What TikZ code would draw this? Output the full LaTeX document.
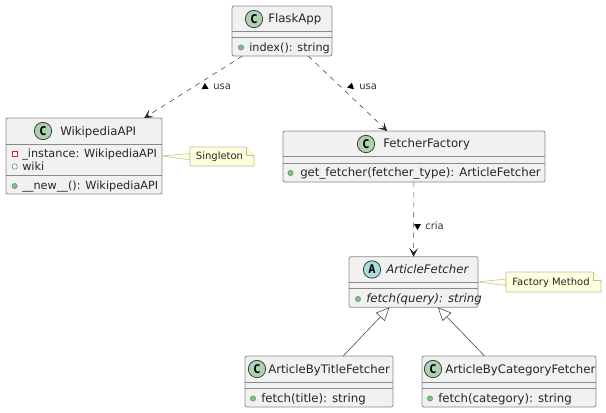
\documentclass[tikz,border=0pt]{standalone}
\usepackage{fontspec}
\setmainfont{DejaVu Sans}
\newfontfamily\iconfont{DejaVu Sans Mono}
\usetikzlibrary{shapes.geometric, arrows.meta}
\definecolor{boxfill}{HTML}{F1F1F1}
\definecolor{boxline}{HTML}{8A8A8A}
\definecolor{classgreen}{HTML}{ADD1B2}
\definecolor{abstractblue}{HTML}{A9DCDF}
\definecolor{notefill}{HTML}{FEFFDD}
\definecolor{noteline}{HTML}{BDBD9E}
\definecolor{methodgreen}{HTML}{84BE84}
\definecolor{edgegreen}{HTML}{3F8F68}
\definecolor{privred}{HTML}{C82930}

\begin{document}
\begin{tikzpicture}[
  x=0.75pt, y=-0.75pt,
  classbox/.style={draw=boxline, fill=boxfill, rounded corners=1.5pt, line width=0.6pt, outer sep=0pt, inner sep=0pt},
  sepline/.style={draw=boxline, line width=0.5pt},
  icon/.style={circle, draw=black!75, line width=0.6pt, minimum size=13pt, inner sep=0pt, font=\iconfont\bfseries\fontsize{9}{9}\selectfont},
  classicon/.style={icon, fill=classgreen},
  abstracticon/.style={icon, fill=abstractblue},
  txt/.style={anchor=west, inner sep=0pt, text height=1.6ex, text depth=0.45ex, text=black!85, font=\fontsize{8.8}{10}\selectfont},
  narrowtxt/.style={txt, font=\fontsize{8.45}{10}\selectfont},
  pubmethod/.style={circle, fill=methodgreen, draw=edgegreen, line width=0.3pt, minimum size=4pt, inner sep=0pt},
  pubfield/.style={circle, fill=white, draw=edgegreen, line width=0.4pt, minimum size=4pt, inner sep=0pt},
  privfield/.style={rectangle, fill=white, draw=privred, line width=0.5pt, minimum size=3.6pt, inner sep=0pt},
  uses/.style={draw=black!70, line width=0.45pt, dash pattern=on 3.8pt off 3.8pt, -{Stealth[length=6.5pt, width=6.5pt, inset=3.2pt, black!85]}},
  extends/.style={draw=black!70, line width=0.45pt, -{Triangle[open, length=10pt, width=9pt, fill=white]}},
  linklabel/.style={anchor=west, inner sep=0pt, text=black!80, font=\fontsize{7.5}{9}\selectfont},
  linkarrow/.style={regular polygon, regular polygon sides=3, fill=black, inner sep=0pt, minimum size=6pt},
  notebox/.style={inner sep=0pt, outer sep=0pt},
  notetext/.style={inner sep=0pt, font=\fontsize{7.5}{9}\selectfont, text=black!85},
  notewedge/.style={fill=notefill, draw=noteline, line width=0.4pt, line join=round},
]
  \useasboundingbox (0,0) rectangle (606,412);

  % Class boxes
  \node[classbox, minimum width=75pt, minimum height=37.5pt] (flask) at (282,31) {};
  \node[classbox, minimum width=117pt, minimum height=57pt] (wiki) at (84,156) {};
  \node[classbox, minimum width=196.5pt, minimum height=38.25pt] (factory) at (414,156.5) {};
  \node[classbox, minimum width=96.75pt, minimum height=37.9pt] (fetcher) at (413.5,282) {};
  \node[classbox, minimum width=111pt, minimum height=38.25pt] (bytitle) at (319,381.5) {};
  \node[classbox, minimum width=130.5pt, minimum height=38.25pt] (bycategory) at (509,381.5) {};

  % Compartment lines
  \foreach \n/\a/\b in {flask/31.5/37.5, wiki/144/175, factory/156.5/163, fetcher/282/288, bytitle/382/388, bycategory/382/388}
    \draw[sepline] (\n.west |- 0,\a) -- (\n.east |- 0,\a) (\n.west |- 0,\b) -- (\n.east |- 0,\b);

  % Headers
  \node[classicon] (flaskicon) at (254,19) {C};
  \node[txt] (flaskname) at (268,18.5) {FlaskApp};
  \node[classicon] (wikiicon) at (43,131) {C};
  \node[txt] (wikiname) at (60,131) {WikipediaAPI};
  \node[classicon] (factoryicon) at (366,144) {C};
  \node[txt] (factoryname) at (383,143.5) {FetcherFactory};
  \node[abstracticon] (fetchericon) at (372,269.5) {A};
  \node[txt, font=\fontsize{8.8}{10}\selectfont\itshape] (fetchername) at (386,269.5) {ArticleFetcher};
  \node[classicon] (bytitleicon) at (257,369) {C};
  \node[txt] (bytitlename) at (268,369) {ArticleByTitleFetcher};
  \node[classicon] (bycategoryicon) at (433,369) {C};
  \node[txt] (bycategoryname) at (445,369) {ArticleByCategoryFetcher};

  % Members
  \node[pubmethod] (indexdot) at (241,47.5) {};
  \node[narrowtxt] (index) at (249,47) {index(): string};
  \node[privfield] (instancedot) at (14.7,153.5) {};
  \node[narrowtxt] (instance) at (22,153) {\_instance: WikipediaAPI};
  \node[pubfield] (wikidot) at (14.7,166.5) {};
  \node[narrowtxt] (wikifield) at (22,166) {wiki};
  \node[pubmethod] (newdot) at (14.7,186) {};
  \node[narrowtxt] (newmethod) at (22,185.5) {\_\_new\_\_(): WikipediaAPI};
  \node[pubmethod] (getdot) at (290.5,173) {};
  \node[txt] (getfetcher) at (300,172.5) {get\_fetcher(fetcher\_type): ArticleFetcher};
  \node[pubmethod] (fetchdot) at (358,299) {};
  \node[txt, font=\fontsize{8.8}{10}\selectfont\itshape] (fetch) at (366,298.5) {fetch(query): string};
  \node[pubmethod] (titledot) at (253,398.5) {};
  \node[txt] (fetchtitle) at (261,398) {fetch(title): string};
  \node[pubmethod] (categorydot) at (430,398.5) {};
  \node[txt] (fetchcategory) at (438,398) {fetch(category): string};

  % Links
  \draw[uses] (flask) -- (wiki);
  \draw[uses] (flask) -- (factory);
  \draw[uses] (factory) -- (fetcher);
  \draw[extends] (bytitle) -- (fetcher);
  \draw[extends] (bycategory) -- (fetcher);

  \node[linkarrow, rotate=122] (usaarrowa) at (205,87) {};
  \node[linklabel] (usaa) at (213,87) {usa};
  \node[linkarrow, rotate=-133.5] (usaarrowb) at (351,86.5) {};
  \node[linklabel] (usab) at (359,87) {usa};
  \node[linkarrow, rotate=180] (criaarrow) at (417.5,226) {};
  \node[linklabel] (cria) at (425,226) {cria};

  % Notes
  \node[notebox, minimum width=48pt, minimum height=14.25pt] (singleton) at (222,156.5) {};
  \node[notebox, minimum width=71.25pt, minimum height=15pt] (method) at (553.5,282) {};
  \coordinate (singletontip) at (wiki.east |- 0,156);
  \coordinate (methodtip) at (fetcher.east |- 0,282);
  \draw[notewedge] (singletontip) -- (singleton.west |- 0,153.5) -- (singleton.west |- 0,160) -- cycle;
  \draw[notewedge] (methodtip) -- (method.west |- 0,279) -- (method.west |- 0,285.5) -- cycle;
  \foreach \n in {singleton, method} {
    \draw[notewedge] (\n.south west) -- (\n.north west) -- ([xshift=-6pt]\n.north east) -- ([yshift=-6pt]\n.north east) -- (\n.south east) -- cycle;
    \draw[notewedge] ([xshift=-6pt]\n.north east) -- ([xshift=-6pt, yshift=-6pt]\n.north east) -- ([yshift=-6pt]\n.north east);
  }
  \node[notetext] (singletontext) at (219.5,157) {Singleton};
  \node[notetext] (methodtext) at (551,283) {Factory Method};
\end{tikzpicture}
\end{document}
